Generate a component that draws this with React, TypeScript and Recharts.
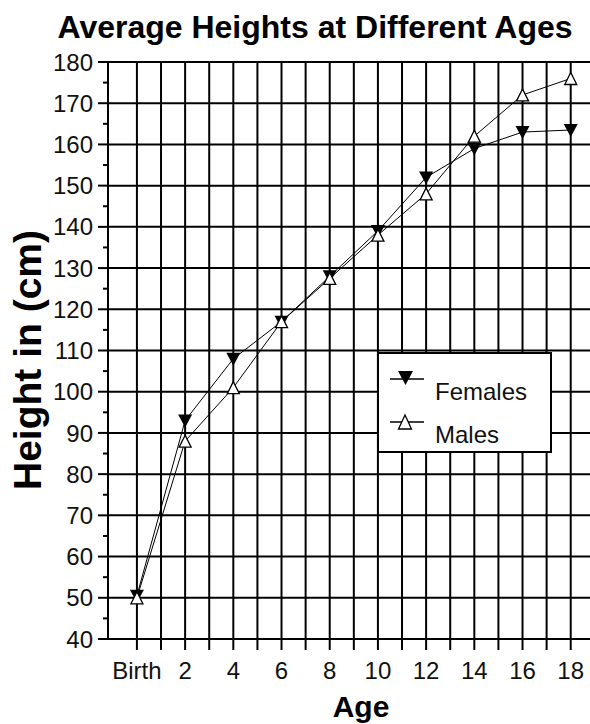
import { LineChart, Line, XAxis, YAxis, CartesianGrid, Legend } from "recharts";

const ages = [0, 2, 4, 6, 8, 10, 12, 14, 16, 18];
const females = [50.5, 93, 108, 117, 128, 139, 152, 159, 163, 163.5];
const males = [50, 88, 101, 117, 127.5, 138, 148, 162, 172, 176];

const yMajor = [40, 50, 60, 70, 80, 90, 100, 110, 120, 130, 140, 150, 160, 170, 180];
const yAll = [40, 45, 50, 55, 60, 65, 70, 75, 80, 85, 90, 95, 100, 105, 110, 115, 120, 125, 130, 135, 140, 145, 150, 155, 160, 165, 170, 175, 180];
const years = [0, 1, 2, 3, 4, 5, 6, 7, 8, 9, 10, 11, 12, 13, 14, 15, 16, 17, 18];

const data = ages.map((age, i) => ({ age, females: females[i], males: males[i] }));

const FONT = "'Liberation Sans', Arial, sans-serif";

function DownTri(props: any) {
  const { cx, cy } = props;
  if (cx == null || cy == null) return null;
  return <polygon points={`${cx - 7},${cy - 6} ${cx + 7},${cy - 6} ${cx},${cy + 7}`} fill="#000" />;
}

function UpTri(props: any) {
  const { cx, cy } = props;
  if (cx == null || cy == null) return null;
  return (
    <polygon
      points={`${cx},${cy - 6} ${cx - 6},${cy + 6} ${cx + 6},${cy + 6}`}
      fill="#fff"
      stroke="#000"
      strokeWidth={1.3}
    />
  );
}

function YTick(props: any) {
  const { x, y, payload } = props;
  const major = payload.value % 10 === 0;
  const axisX = x + 16;
  return (
    <g>
      <line x1={axisX - (major ? 10 : 5)} y1={y} x2={axisX} y2={y} stroke="#000" strokeWidth={2} />
      {major && (
        <text x={x + 1} y={y} dy="0.36em" textAnchor="end" fontSize={24} fontFamily={FONT} fill="#111">
          {payload.value}
        </text>
      )}
    </g>
  );
}

function LegendBox() {
  const row = (filled: boolean, label: string) => (
    <div style={{ display: "flex", alignItems: "flex-start", height: 44 }}>
      <svg width={46} height={30}>
        <line x1={1} y1={filled ? 13 : 12} x2={35} y2={filled ? 13 : 12} stroke="#000" strokeWidth={1.3} />
        {filled ? (
          <polygon points="9,5 24,5 16.5,19" fill="#000" />
        ) : (
          <polygon points="16,5 9.5,19 22.5,19" fill="#fff" stroke="#000" strokeWidth={1.3} />
        )}
      </svg>
      <span style={{ fontFamily: FONT, fontSize: 24, color: "#111", marginTop: filled ? 14 : 13, lineHeight: "24px" }}>{label}</span>
    </div>
  );
  return (
    <div
      style={{
        width: 175,
        height: 101,
        boxSizing: "border-box",
        border: "2px solid #000",
        background: "#fff",
        padding: "12px 0 0 10px",
      }}
    >
      {row(true, "Females")}
      {row(false, "Males")}
    </div>
  );
}

export default function App() {
  return (
    <div style={{ position: "absolute", left: 0, top: 0, width: 590, height: 724, background: "#fff" }}>
      <div
        style={{
          position: "absolute",
          left: 0,
          top: 11,
          width: 630,
          textAlign: "center",
          fontFamily: FONT,
          fontWeight: "bold",
          fontSize: 32,
          lineHeight: "32px",
          color: "#000",
        }}
      >
        Average Heights at Different Ages
      </div>
      <LineChart width={590} height={724} data={data} margin={{ top: 62, right: 0, bottom: 0, left: 0 }}>
        <CartesianGrid
          stroke="#000"
          strokeWidth={2}
          horizontalValues={yMajor}
          verticalValues={years}
        />
        <XAxis
          type="number"
          dataKey="age"
          domain={[-1.2, 18.8]}
          ticks={years}
          interval={0}
          allowDataOverflow
          height={85}
          tickSize={11}
          tickMargin={12}
          stroke="#000"
          strokeWidth={2}
          tick={{ fontSize: 24, fontFamily: FONT, fill: "#111" }}
          tickFormatter={(v: number) => (v === 0 ? "Birth" : v % 2 === 0 ? String(v) : "")}
          label={{
            value: "Age",
            position: "insideBottom",
            offset: 7,
            dx: 12,
            style: { fontSize: 30, fontWeight: "bold", fontFamily: FONT, fill: "#000" },
          }}
        />
        <YAxis
          type="number"
          domain={[40, 180]}
          ticks={yAll}
          interval={0}
          width={108}
          tickSize={10}
          tickMargin={6}
          tickLine={false}
          stroke="#000"
          strokeWidth={2}
          tick={<YTick />}
          label={{
            content: () => (
              <text
                x={41}
                y={360}
                transform="rotate(-90 41 360)"
                textAnchor="middle"
                fontSize={39}
                fontWeight="bold"
                fontFamily={FONT}
                fill="#000"
              >
                Height in (cm)
              </text>
            ),
          }}
        />
        <Legend
          layout="horizontal"
          verticalAlign="middle"
          align="center"
          content={<LegendBox />}
          wrapperStyle={{ position: "absolute", left: 377, top: 352, width: 175, height: 101 }}
        />
        <Line
          type="linear"
          dataKey="females"
          name="Females"
          stroke="#000"
          strokeWidth={1}
          dot={<DownTri />}
          activeDot={false}
          isAnimationActive={false}
        />
        <Line
          type="linear"
          dataKey="males"
          name="Males"
          stroke="#000"
          strokeWidth={1}
          dot={<UpTri />}
          activeDot={false}
          isAnimationActive={false}
        />
      </LineChart>
    </div>
  );
}
